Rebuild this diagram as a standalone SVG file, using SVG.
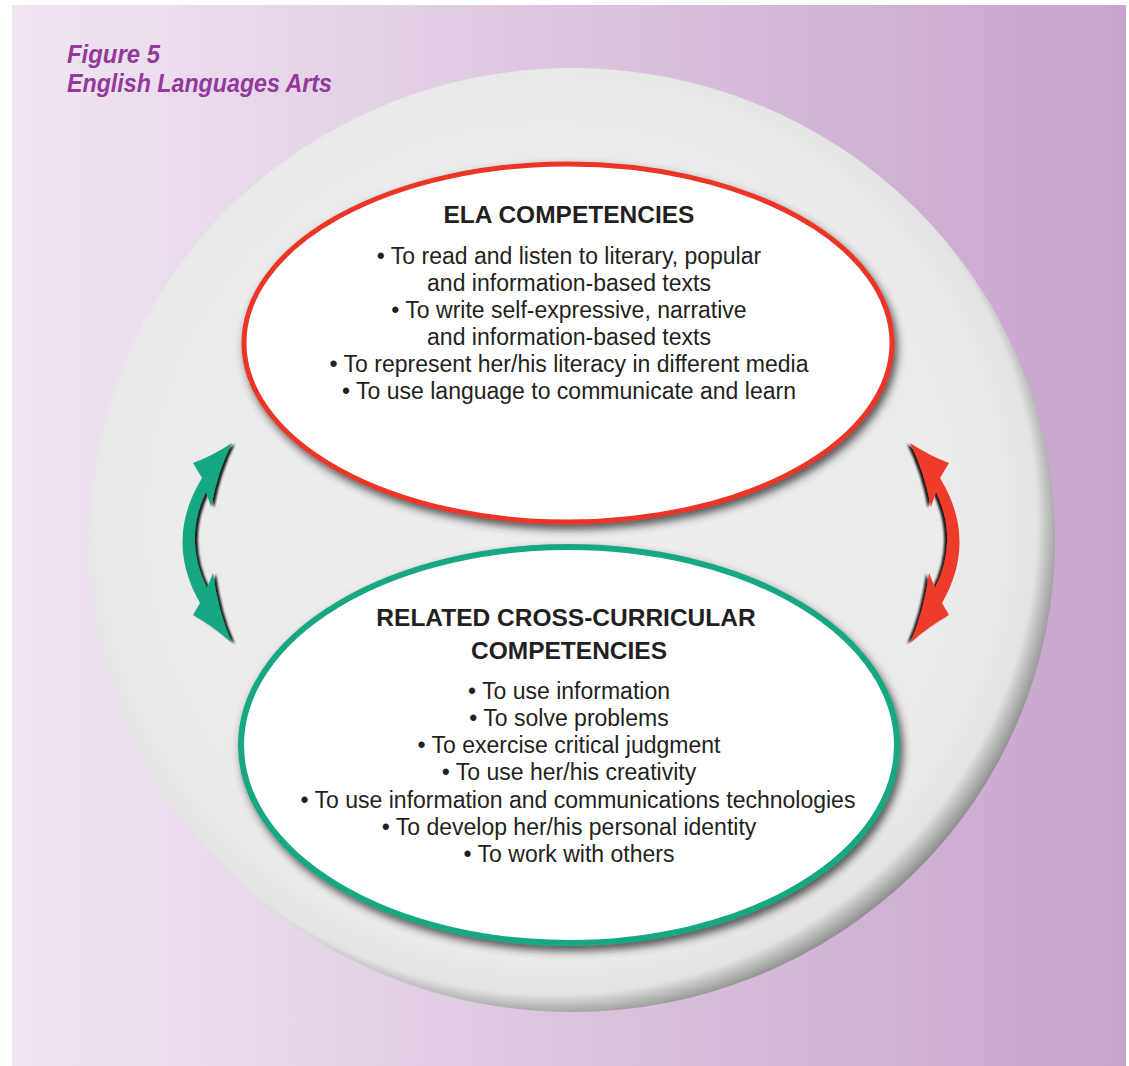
<svg xmlns="http://www.w3.org/2000/svg" width="1129" height="1066" viewBox="0 0 1129 1066">
  <defs>
    <linearGradient id="bg" x1="0" y1="0" x2="1" y2="0">
      <stop offset="0" stop-color="#f0e6f2"/>
      <stop offset="0.5" stop-color="#dcc5df"/>
      <stop offset="1" stop-color="#c7a4cc"/>
    </linearGradient>
    <radialGradient id="disc" cx="0.48" cy="0.48" r="0.528">
      <stop offset="0" stop-color="#eeeeee"/>
      <stop offset="0.88" stop-color="#ebebeb"/>
      <stop offset="0.95" stop-color="#e2e2e2"/>
      <stop offset="1" stop-color="#8e8e8e"/>
    </radialGradient>
    <filter id="shadow" x="-10%" y="-10%" width="120%" height="125%">
      <feGaussianBlur in="SourceAlpha" stdDeviation="4"/>
      <feOffset dx="3" dy="5" result="b"/>
      <feFlood flood-color="#2e2e2e" flood-opacity="0.8"/>
      <feComposite in2="b" operator="in"/>
      <feMerge><feMergeNode/><feMergeNode in="SourceGraphic"/></feMerge>
    </filter>
    <filter id="ashadow" x="-30%" y="-10%" width="160%" height="120%">
      <feGaussianBlur in="SourceAlpha" stdDeviation="0.8"/>
      <feOffset dx="3" dy="1" result="b"/>
      <feFlood flood-color="#000000" flood-opacity="0.9"/>
      <feComposite in2="b" operator="in"/>
      <feMerge><feMergeNode/><feMergeNode in="SourceGraphic"/></feMerge>
    </filter>
    <path id="arrow" d="M232,443 Q218,470 211,507 L206,492 Q183,540 207,588 L213,573 Q218,612 232,643 Q210,624 193,615 L200,603 Q164,540 202,478 L193,463 Q212,456 232,443 Z"/>
    <style>
      .title { font-family: "Liberation Sans", Arial, sans-serif; font-weight: bold; font-style: italic; font-size: 25px; fill: #93399a; }
      .head { font-family: "Liberation Sans", Arial, sans-serif; font-weight: bold; font-size: 24.5px; fill: #231f20; text-anchor: middle; }
      .body { font-family: "Liberation Sans", Arial, sans-serif; font-size: 23px; fill: #231f20; text-anchor: middle; }
    </style>
  </defs>

  <rect x="12" y="5" width="1114" height="1061" fill="url(#bg)"/>

  <g id="title">
    <text class="title" x="67" y="63" textLength="93" lengthAdjust="spacingAndGlyphs">Figure 5</text>
    <text class="title" x="67" y="92" textLength="265" lengthAdjust="spacingAndGlyphs">English Languages Arts</text>
  </g>

  <g id="disc">
    <ellipse cx="572" cy="540" rx="483" ry="472" fill="url(#disc)"/>
  </g>

  <g id="ela-competencies">
    <ellipse cx="568" cy="343" rx="324" ry="179" fill="#ffffff" stroke="#ec3525" stroke-width="5" filter="url(#shadow)"/>
    <text class="head" x="569" y="223">ELA COMPETENCIES</text>
    <text class="body" x="569" y="264">• To read and listen to literary, popular</text>
    <text class="body" x="569" y="291">and information-based texts</text>
    <text class="body" x="569" y="318">• To write self-expressive, narrative</text>
    <text class="body" x="569" y="345">and information-based texts</text>
    <text class="body" x="569" y="372">• To represent her/his literacy in different media</text>
    <text class="body" x="569" y="399">• To use language to communicate and learn</text>
  </g>

  <g id="cross-curricular-competencies">
    <ellipse cx="569" cy="745" rx="328" ry="198" fill="#ffffff" stroke="#17a883" stroke-width="6" filter="url(#shadow)"/>
    <text class="head" x="566" y="626">RELATED CROSS-CURRICULAR</text>
    <text class="head" x="569" y="659">COMPETENCIES</text>
    <text class="body" x="569" y="699">• To use information</text>
    <text class="body" x="569" y="726">• To solve problems</text>
    <text class="body" x="569" y="753">• To exercise critical judgment</text>
    <text class="body" x="569" y="780">• To use her/his creativity</text>
    <text class="body" x="578" y="808">• To use information and communications technologies</text>
    <text class="body" x="569" y="835">• To develop her/his personal identity</text>
    <text class="body" x="569" y="862">• To work with others</text>
  </g>

  <g id="connectors">
    <use href="#arrow" fill="#16a883" filter="url(#ashadow)"/>
    <g transform="translate(1142,0) scale(-1,1)">
      <use href="#arrow" fill="#ee3b2b" filter="url(#ashadow)"/>
    </g>
  </g>
</svg>
